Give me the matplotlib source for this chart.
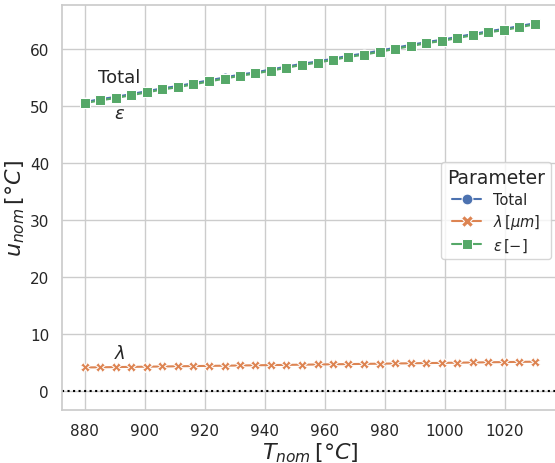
import numpy as np
import matplotlib
matplotlib.use("Agg")
import matplotlib.pyplot as plt
import seaborn as sns

sns.set_theme(style="whitegrid")
plt.rcParams['font.family'] = ['DejaVu Sans']

T_nom = [880.0, 885.2, 890.3, 895.5, 900.7, 905.9, 911.0, 916.2, 921.4, 926.6,
         931.7, 936.9, 942.1, 947.2, 952.4, 957.6, 962.8, 967.9, 973.1, 978.3,
         983.4, 988.6, 993.8, 999.0, 1004.1, 1009.3, 1014.5, 1019.7, 1024.8, 1030.0]
u_total = [50.7, 51.2, 51.6, 52.1, 52.6, 53.1, 53.5, 54.0, 54.5, 55.0,
           55.5, 55.9, 56.4, 56.9, 57.4, 57.8, 58.3, 58.8, 59.2, 59.7,
           60.2, 60.7, 61.2, 61.6, 62.1, 62.6, 63.1, 63.5, 64.0, 64.5]
u_lambda = [4.20, 4.23, 4.27, 4.30, 4.34, 4.37, 4.41, 4.44, 4.48, 4.51,
            4.55, 4.58, 4.62, 4.65, 4.69, 4.72, 4.76, 4.79, 4.83, 4.86,
            4.90, 4.93, 4.97, 5.00, 5.04, 5.07, 5.11, 5.14, 5.18, 5.21]
u_eps = [50.5, 51.0, 51.4, 51.9, 52.4, 52.9, 53.3, 53.8, 54.3, 54.8,
         55.3, 55.7, 56.2, 56.7, 57.2, 57.6, 58.1, 58.6, 59.0, 59.5,
         60.0, 60.5, 61.0, 61.4, 61.9, 62.4, 62.9, 63.3, 63.8, 64.3]
series_labels = ["Total", r"$\lambda\,[\mu m]$", r"$\varepsilon\,[-]$"]
annot_labels = ["Total", r"$\varepsilon$", r"$\lambda$"]
annot_x = [891.5, 891.5, 891.5]
annot_y = [55.0, 48.8, 6.8]

pal = sns.color_palette("deep")
fig = plt.figure(figsize=(5.55, 4.64), dpi=100)
ax = fig.add_axes([62.3/555, (464-410.7)/464, 495/555, (410.7-6)/464])

ax.plot(T_nom, u_total, color=pal[0], marker='o', ms=6.5, mec='white', mew=0.75,
        lw=1.5, label=series_labels[0])
ax.plot(T_nom, u_lambda, color=pal[1], marker='X', ms=7, mec='white', mew=0.75,
        lw=1.5, label=series_labels[1])
ax.plot(T_nom, u_eps, color=pal[2], marker='s', ms=6.5, mec='white', mew=0.75,
        lw=1.5, label=series_labels[2])
ax.axhline(0, color='black', ls=':', lw=1.5)

for t, x, y in zip(annot_labels, annot_x, annot_y):
    ax.text(x, y, t, fontsize=13, ha='center', va='center', color='#262626')

ax.set_xlim(872.5, 1037.5)
ax.set_ylim(-3.2, 67.7)
ax.set_xticks([880, 900, 920, 940, 960, 980, 1000, 1020])
ax.set_yticks([0, 10, 20, 30, 40, 50, 60])
ax.tick_params(labelsize=11)
ax.set_xlabel(r"$T_{nom}\,[°C]$", fontsize=16, labelpad=2)
ax.set_ylabel(r"$u_{nom}\,[°C]$", fontsize=16, labelpad=2)

leg = ax.legend(title="Parameter", fontsize=10.5, title_fontsize=13.5,
                loc='upper right', bbox_to_anchor=(551/555, 1-163/464),
                bbox_transform=fig.transFigure, borderaxespad=0,
                labelspacing=0.35, markerscale=1.2)

fig.savefig("out.png", dpi=100)
